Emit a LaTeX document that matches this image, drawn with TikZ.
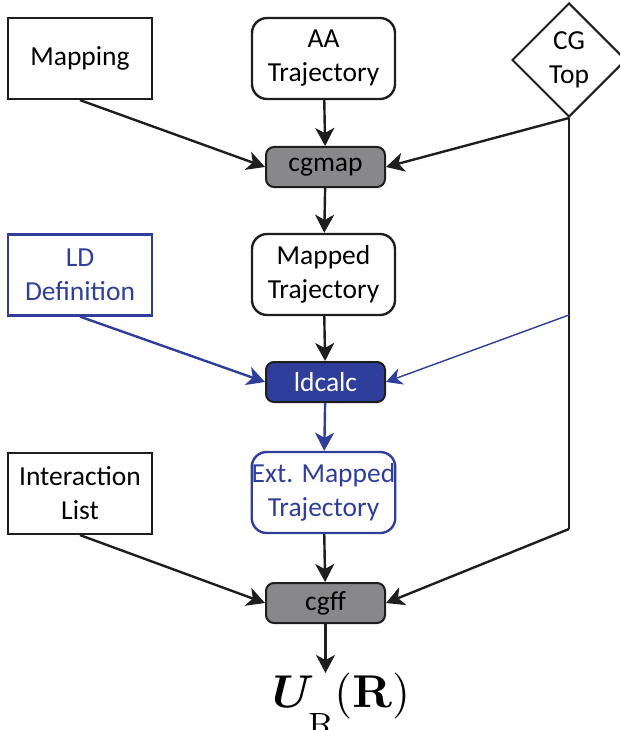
\documentclass[tikz,border=0pt]{standalone}
\usepackage{graphicx}
\usepackage{amsmath}
\usepackage[no-math]{fontspec}
\setmainfont{Carlito}
\usetikzlibrary{shapes.geometric,arrows.meta}
\definecolor{ldblue}{RGB}{46,62,154}
\definecolor{boxgray}{RGB}{136,136,138}
\definecolor{lineblack}{RGB}{30,30,30}
\begin{document}
\begin{tikzpicture}[x=1pt,y=-1pt,
  every node/.style={font=\fontsize{27.5}{34}\selectfont, align=center, inner sep=0pt},
  sqbox/.style={draw=lineblack, line width=2.2pt, rectangle, minimum width=144pt, minimum height=81pt},
  rbox/.style={draw=lineblack, line width=2.4pt, rectangle, rounded corners=15pt, minimum width=143pt, minimum height=81pt},
  proc/.style={draw=lineblack, line width=2pt, rectangle, rounded corners=8pt, minimum width=119pt, minimum height=40pt, fill=boxgray},
  conn/.style={draw=lineblack, line width=2.4pt, -{Stealth[length=18pt,width=19pt,inset=5pt]}},
  bconn/.style={draw=ldblue, line width=2.4pt, -{Stealth[length=18pt,width=19pt,inset=5pt]}},
  tconn/.style={draw=ldblue, line width=1.4pt, -{Stealth[length=16pt,width=17pt,inset=5pt]}}
]
\useasboundingbox (0,0) rectangle (620,730);
\node[sqbox] (map) at (80,58.5) {Mapping};
\node[rbox] (aa) at (323.5,58.5) {AA\\Trajectory};
\node[draw=lineblack, line width=2pt, diamond, aspect=1, minimum size=114pt] (cg) at (569,60) {CG\\Top};
\node[proc] (cgmap) at (325.5,167) {cgmap};
\node[rbox] (mt) at (323.5,274.5) {Mapped\\Trajectory};
\node[sqbox, draw=ldblue, text=ldblue] (ld) at (80,275) {LD\\Definition};
\node[proc, fill=ldblue, text=white] (ldcalc) at (325.5,382) {ldcalc};
\node[rbox, draw=ldblue, text=ldblue] (ext) at (323.5,492.5) {Ext. Mapped\\Trajectory};
\node[sqbox] (il) at (80,493.5) {Interaction\\List};
\node[proc] (cgff) at (325.5,603) {cgff};
\node[anchor=north west, font=\normalsize] (u) at (272,673) {\scalebox{4.6}{$\boldsymbol{U}_{\mkern-3mu\raisebox{-4.6pt}{$\scriptstyle\mathrm{R}$}}\mkern-1mu(\mathbf{R})$}};
\coordinate (vblue) at (569,315);
\coordinate (vend) at (569,529);
% connectors
\draw[conn] (aa) -- (cgmap);
\draw[conn] (map.south) -- (cgmap.west);
\draw[conn] (cg.south) -- (cgmap.east);
\draw[draw=lineblack, line width=2.4pt] (cg.south) -- (vend);
\draw[conn] (cgmap) -- (mt);
\draw[conn] (mt) -- (ldcalc);
\draw[bconn] (ld.south) -- (ldcalc.west);
\draw[tconn] (vblue) -- (ldcalc.east);
\draw[bconn] (ldcalc) -- (ext);
\draw[conn] (ext) -- (cgff);
\draw[conn] (il.south) -- (cgff.west);
\draw[conn] (vend) -- (cgff.east);
\draw[conn] (cgff) -- (cgff |- u.north);
\end{tikzpicture}
\end{document}
